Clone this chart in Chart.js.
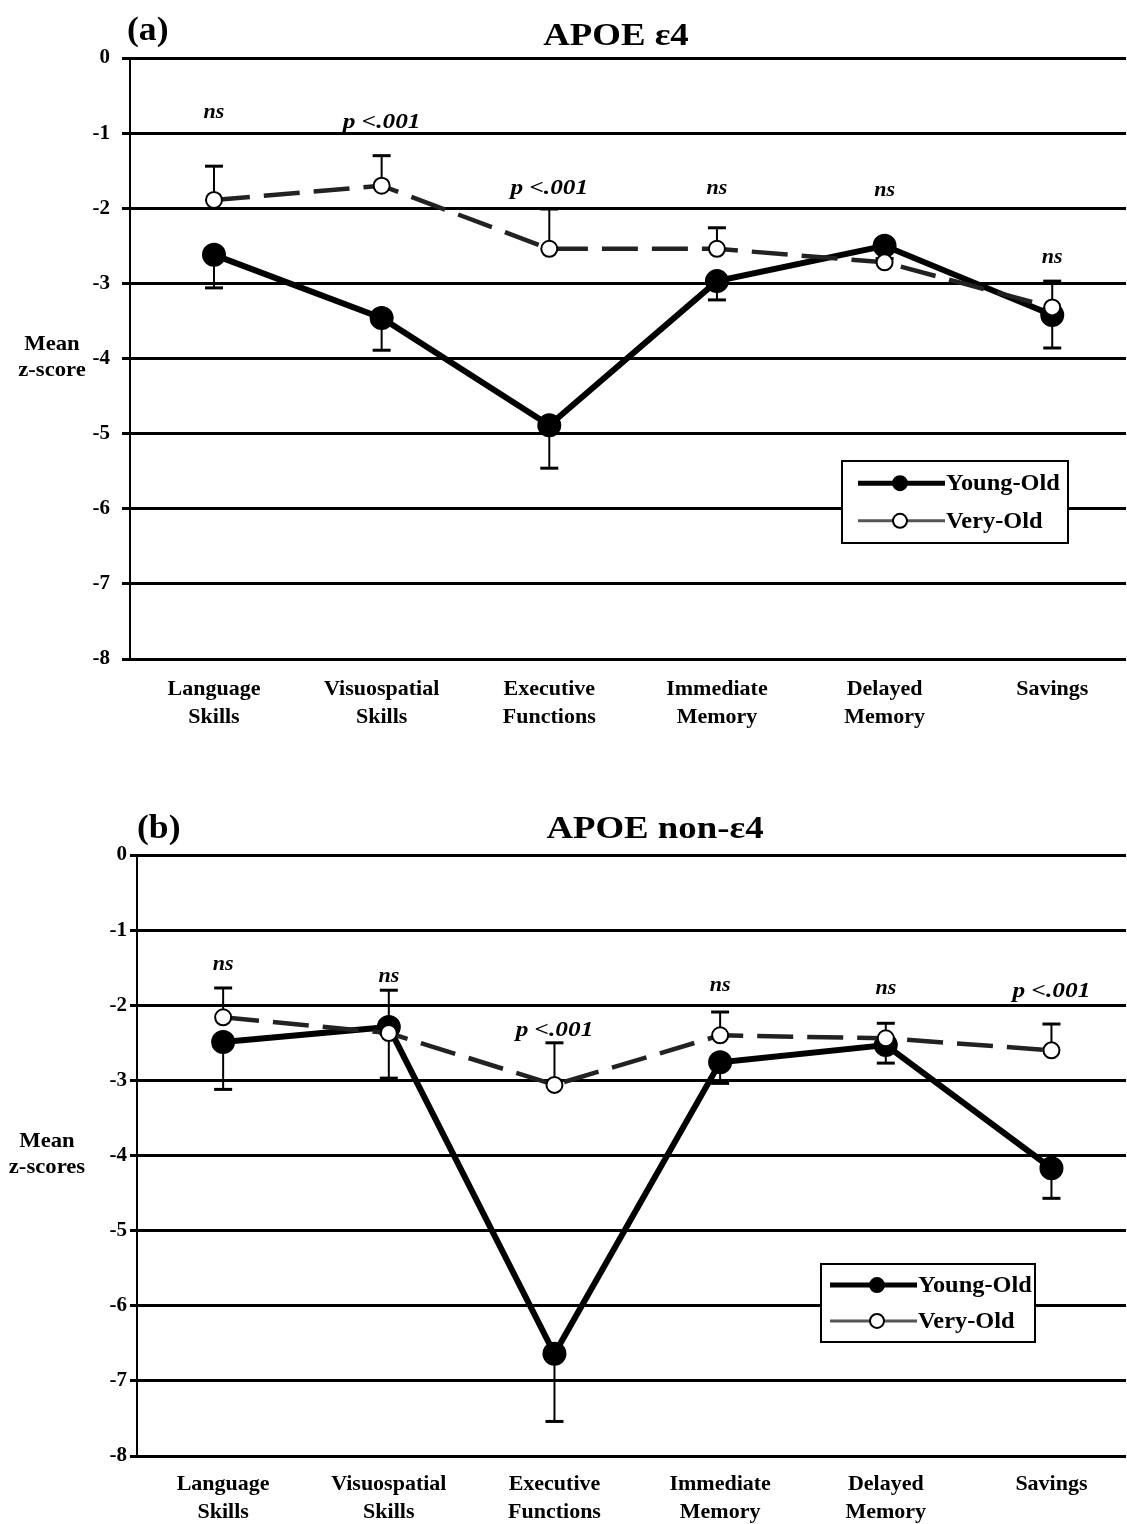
<!DOCTYPE html>
<html lang="en">
<head>
  <meta charset="UTF-8">
  <title>APOE z-scores by age group</title>
  <script src="https://cdn.jsdelivr.net/npm/chart.js"></script>
  <style>
    html, body { margin: 0; background: #fff; overflow: hidden; }
    .wrap { position: relative; width: 1127px; height: 1524px; overflow: hidden; }
    canvas { position: absolute; left: 0; }
    #chartA { top: 0; }
    #chartB { top: 780px; }
  </style>
</head>
<body>
  <div class="wrap">
    <!-- canvases are a little wider than the page; Chart.js keeps a small right gap that is clipped away -->
    <canvas id="chartA" width="1141" height="780"></canvas>
    <canvas id="chartB" width="1141" height="744"></canvas>
  </div>

  <script>
    // categories and tick labels
    const categories = [
      ["Language", "Skills"], ["Visuospatial", "Skills"], ["Executive", "Functions"],
      ["Immediate", "Memory"], ["Delayed", "Memory"], ["Savings"]
    ];
    const yTicks = [0, -1, -2, -3, -4, -5, -6, -7, -8];

    // (a) APOE e4
    const youngA = [-2.62, -3.46, -4.89, -2.97, -2.50, -3.42];
    const youngAErr = [0.44, 0.43, 0.57, 0.25, 0.05, 0.44];
    const veryA = [-1.89, -1.70, -2.54, -2.54, -2.72, -3.32];
    const veryAErr = [0.45, 0.40, 0.53, 0.28, 0.05, 0.35];
    const sigA = ["ns", "p <.001", "p <.001", "ns", "ns", "ns"];
    const sigAy = [-0.72, -0.85, -1.73, -1.73, -1.76, -2.65];

    // (b) APOE non-e4
    const youngB = [-2.49, -2.29, -6.64, -2.76, -2.53, -4.17];
    const youngBErr = [0.63, 0.68, 0.90, 0.28, 0.24, 0.40];
    const veryB = [-2.16, -2.37, -3.06, -2.40, -2.44, -2.60];
    const veryBErr = [0.39, 0.57, 0.56, 0.31, 0.20, 0.35];
    const sigB = ["ns", "ns", "p <.001", "ns", "ns", "p <.001"];
    const sigBy = [-1.46, -1.61, -2.34, -1.74, -1.77, -1.82];

    const serif = "'Liberation Serif', 'Times New Roman', serif";

    // one-sided error bars: young downward, very-old upward
    const errorBars = {
      id: 'errorBars',
      beforeDatasetsDraw(chart) {
        const { ctx, scales: { x, y } } = chart;
        chart.data.datasets.forEach(ds => {
          ctx.save();
          ctx.strokeStyle = '#000';
          ds.data.forEach((p, i) => {
            const px = x.getPixelForValue(p.x);
            const y1 = y.getPixelForValue(p.y);
            const y2 = y.getPixelForValue(p.y + ds.errDir * ds.errs[i]);
            ctx.lineWidth = 2;
            ctx.beginPath(); ctx.moveTo(px, y1); ctx.lineTo(px, y2); ctx.stroke();
            ctx.lineWidth = 3;
            ctx.beginPath(); ctx.moveTo(px - 9, y2); ctx.lineTo(px + 9, y2); ctx.stroke();
          });
          ctx.restore();
        });
      }
    };

    // text drawn a bit wider, like the scanned original
    function wideText(ctx, text, x, y, sx) {
      ctx.save();
      ctx.translate(x, y);
      ctx.scale(sx, 1);
      ctx.fillText(text, 0, 0);
      ctx.restore();
    }

    const decorations = {
      id: 'decorations',
      afterDraw(chart, args, opts) {
        const { ctx, scales: { x, y } } = chart;
        ctx.save();
        ctx.fillStyle = '#000';
        // panel letter and title
        ctx.textBaseline = 'alphabetic';
        ctx.textAlign = 'left';
        ctx.font = 'bold 33px ' + serif;
        wideText(ctx, opts.letter, opts.letterX, opts.letterY, 1.08);
        ctx.textAlign = 'center';
        ctx.font = 'bold 32px ' + serif;
        wideText(ctx, opts.title, opts.titleX, opts.titleY, 1.15);
        // y axis title (horizontal)
        ctx.font = 'bold 21px ' + serif;
        ctx.textBaseline = 'middle';
        opts.yTitle.forEach((t, i) => wideText(ctx, t, opts.yTitleX, opts.yTitleY + i * 26, 1.08));
        // significance labels
        ctx.font = 'italic bold 22px ' + serif;
        opts.sig.forEach((t, i) => {
          wideText(ctx, t, x.getPixelForValue(i), y.getPixelForValue(opts.sigY[i]), t === 'ns' ? 1 : 1.15);
        });
        // legend box
        const L = opts.legend;
        ctx.fillStyle = '#fff';
        ctx.fillRect(L.x, L.y, L.w, L.h);
        ctx.strokeStyle = '#000';
        ctx.lineWidth = 2;
        ctx.strokeRect(L.x, L.y, L.w, L.h);
        const rows = [
          { label: 'Young-Old', line: '#000', lw: 5, fill: '#000', ry: L.y + L.h * 0.27 },
          { label: 'Very-Old', line: '#555', lw: 3, fill: '#fff', ry: L.y + L.h * 0.73 }
        ];
        rows.forEach(r => {
          ctx.strokeStyle = r.line;
          ctx.lineWidth = r.lw;
          ctx.beginPath(); ctx.moveTo(L.x + L.l0, r.ry); ctx.lineTo(L.x + L.l1, r.ry); ctx.stroke();
          ctx.beginPath(); ctx.arc(L.x + L.m, r.ry, 7, 0, Math.PI * 2);
          ctx.fillStyle = r.fill; ctx.fill();
          ctx.strokeStyle = '#000'; ctx.lineWidth = 2; ctx.stroke();
          ctx.fillStyle = '#000';
          ctx.textAlign = 'left';
          ctx.font = 'bold 23px ' + serif;
          wideText(ctx, r.label, L.x + L.l1 + 1, r.ry + 1, 1.06);
        });
        ctx.restore();
      }
    };

    function makeChart(id, young, youngErr, very, veryErr, deco, geom) {
      const pts = arr => arr.map((v, i) => ({ x: i, y: v }));
      return new Chart(document.getElementById(id), {
        type: 'line',
        data: {
          datasets: [
            {
              label: 'Young-Old',
              data: pts(young),
              errs: youngErr,
              errDir: -1,
              borderColor: '#000',
              borderWidth: 6,
              pointRadius: 9,
              pointBackgroundColor: '#000',
              pointBorderColor: '#000',
              order: 2
            },
            {
              label: 'Very-Old',
              data: pts(very),
              errs: veryErr,
              errDir: 1,
              borderColor: '#222',
              borderWidth: 4.5,
              borderDash: [36, 14],
              pointRadius: 8,
              pointBackgroundColor: '#fff',
              pointBorderColor: '#000',
              pointBorderWidth: 2,
              order: 1
            }
          ]
        },
        options: {
          responsive: false,
          animation: false,
          devicePixelRatio: 1,
          layout: { padding: { top: geom.top, left: 0, right: 0, bottom: 0 } },
          plugins: { legend: { display: false }, tooltip: { enabled: false }, decorations: deco },
          scales: {
            x: {
              type: 'linear',
              min: geom.xMin,
              max: geom.xMax,
              grid: { display: false, drawTicks: false },
              border: { display: false },
              afterBuildTicks: axis => { axis.ticks = categories.map((_, i) => ({ value: i })); },
              afterFit: axis => { axis.height = geom.xAxisH; },
              ticks: {
                autoSkip: false,
                maxRotation: 0,
                padding: geom.xPad,
                color: '#000',
                font: { family: serif, size: 22, weight: 'bold', lineHeight: 1.25 },
                callback: v => categories[v]
              }
            },
            y: {
              min: -8,
              max: 0,
              afterBuildTicks: axis => { axis.ticks = yTicks.map(v => ({ value: v })); },
              afterFit: axis => { axis.width = geom.left; },
              grid: { color: '#000', lineWidth: 3, tickLength: geom.tickLen, drawTicks: true },
              border: { display: true, color: '#000', width: 2 },
              ticks: {
                padding: geom.yPad,
                color: '#000',
                font: { family: serif, size: 21, weight: 'bold' },
                callback: v => String(v)
              }
            }
          }
        },
        plugins: [errorBars, decorations]
      });
    }

    makeChart('chartA', youngA, youngAErr, veryA, veryAErr, {
      letter: '(a)', letterX: 127, letterY: 40,
      title: 'APOE \u03b54', titleX: 616, titleY: 45,
      yTitle: ['Mean', 'z-score'], yTitleX: 52, yTitleY: 345,
      sig: sigA, sigY: sigAy,
      legend: { x: 842, y: 461, w: 226, h: 82, l0: 16, l1: 103, m: 58 }
    }, { top: 58, left: 130, xAxisH: 121, xMin: -0.501, xMax: 5.44, xPad: 17, tickLen: 8, yPad: 12 });

    makeChart('chartB', youngB, youngBErr, veryB, veryBErr, {
      letter: '(b)', letterX: 137, letterY: 58,
      title: 'APOE non-\u03b54', titleX: 655, titleY: 58,
      yTitle: ['Mean', 'z-scores'], yTitleX: 47, yTitleY: 362,
      sig: sigB, sigY: sigBy,
      legend: { x: 821, y: 484, w: 214, h: 78, l0: 9, l1: 96, m: 56 }
    }, { top: 75, left: 137, xAxisH: 68, xMin: -0.52, xMax: 5.45, xPad: 15, tickLen: 7, yPad: 3 });
  </script>
</body>
</html>
